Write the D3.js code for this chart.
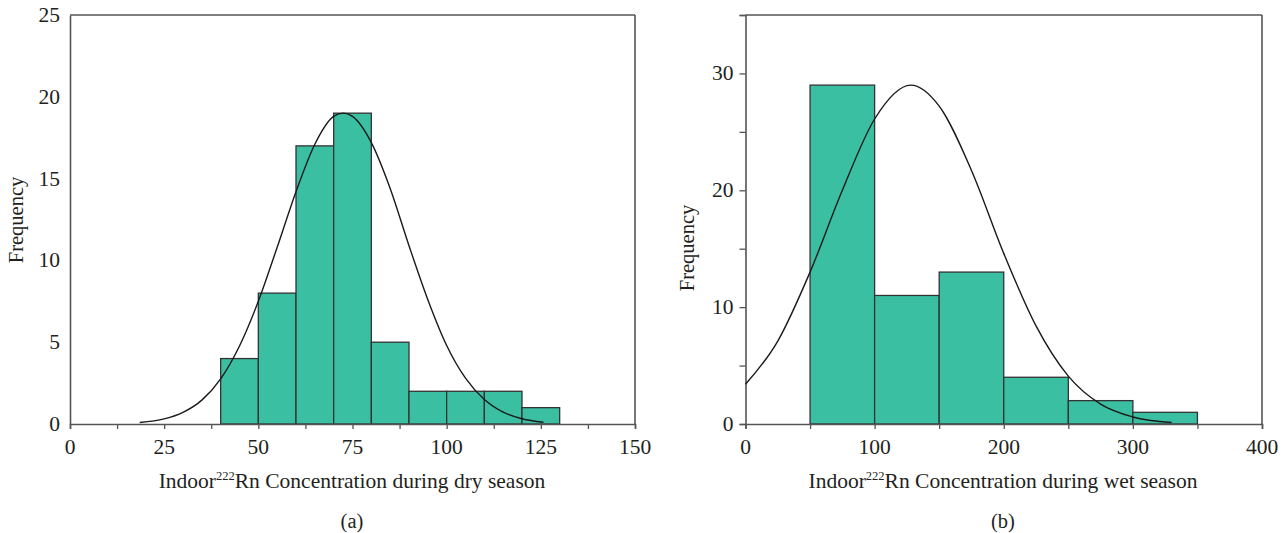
<!DOCTYPE html>
<html>
<head>
<meta charset="utf-8">
<script src="https://cdn.jsdelivr.net/npm/d3@7"></script>
<style>
  html, body { margin: 0; padding: 0; background: #fff; }
  svg text { font-family: "Liberation Serif", "DejaVu Serif", serif; fill: #231f20; }
</style>
</head>
<body>
<svg id="chart" width="1287" height="533"></svg>
<script>
// ---------- Data ----------
// Panel (a): dry season
const dryBinEdges = [40, 50, 60, 70, 80, 90, 100, 110, 120, 130];
const dryCounts   = [4, 8, 17, 19, 5, 2, 2, 2, 1];
const dryCurveX   = [18.5, 25, 30, 35, 40, 45, 50, 55, 60, 65, 70, 72.6, 75, 80, 85, 90, 95, 100, 105, 110, 115, 120, 125.7];
const dryCurveY   = [0.09, 0.31, 0.71, 1.46, 2.76, 4.77, 7.5, 10.8, 14.2, 17.1, 18.8, 19.0, 18.8, 17.2, 14.4, 10.9, 7.6, 4.8, 2.8, 1.5, 0.73, 0.32, 0.11];
const dryXTicks   = [0, 25, 50, 75, 100, 125, 150];
const dryYTicks   = [0, 5, 10, 15, 20, 25];

// Panel (b): wet season
const wetBinEdges = [50, 100, 150, 200, 250, 300, 350];
const wetCounts   = [29, 11, 13, 4, 2, 1];
const wetCurveX   = [0, 25, 50, 75, 100, 128, 150, 175, 200, 225, 250, 275, 300, 330];
const wetCurveY   = [3.4, 7.1, 13.0, 20.0, 26.1, 29.0, 27.2, 21.7, 14.6, 8.4, 4.1, 1.7, 0.6, 0.13];
const wetXTicks   = [0, 100, 200, 300, 400];
const wetYTicks   = [0, 10, 20, 30];

const xTitleA = "Concentration during dry season";
const xTitleB = "Concentration during wet season";

// ---------- Drawing ----------
const svg = d3.select("#chart");
const barFill = "#3bbfa2";
const barStroke = "#333333";
const axisColor = "#555555";

function panel(opt) {
  const x = d3.scaleLinear().domain(opt.xDomain).range(opt.xRange);
  const y = d3.scaleLinear().domain(opt.yDomain).range(opt.yRange);
  const g = svg.append("g");

  // bars
  const bins = opt.counts.map((c, i) => ({ x0: opt.edges[i], x1: opt.edges[i + 1], c }));
  g.selectAll("rect.bar").data(bins).join("rect")
    .attr("class", "bar")
    .attr("x", d => x(d.x0))
    .attr("y", d => y(d.c))
    .attr("width", d => x(d.x1) - x(d.x0))
    .attr("height", d => y(0) - y(d.c))
    .attr("fill", barFill)
    .attr("stroke", barStroke)
    .attr("stroke-width", 1.3);

  // frame top & right
  g.append("line").attr("x1", x(opt.xDomain[0])).attr("x2", x(opt.xDomain[1]))
    .attr("y1", y(opt.yDomain[1])).attr("y2", y(opt.yDomain[1]))
    .attr("stroke", axisColor).attr("stroke-width", 1.6);
  g.append("line").attr("x1", x(opt.xDomain[1])).attr("x2", x(opt.xDomain[1]))
    .attr("y1", y(opt.yDomain[1])).attr("y2", y(0))
    .attr("stroke", axisColor).attr("stroke-width", 1.6);

  // x axis
  const xa = g.append("g").attr("transform", `translate(0,${y(0)})`)
    .call(d3.axisBottom(x).tickValues(opt.xMinorTicks).tickSize(5).tickFormat(""));
  xa.select(".domain").attr("stroke", axisColor).attr("stroke-width", 1.6);
  xa.selectAll(".tick line").attr("stroke", axisColor).attr("stroke-width", 1.3);
  g.selectAll("text.xt").data(opt.xTicks).join("text")
    .attr("class", "xt")
    .attr("x", d => x(d)).attr("y", y(0) + 30)
    .attr("text-anchor", "middle").attr("font-size", 21.5)
    .text(d => d);

  // y axis
  const ya = g.append("g").attr("transform", `translate(${x(opt.xDomain[0])},0)`)
    .call(d3.axisLeft(y).tickValues(opt.yMinorTicks).tickSize(opt.yTickSize).tickFormat(""));
  ya.select(".domain").attr("stroke", axisColor).attr("stroke-width", 1.6);
  ya.selectAll(".tick line").attr("stroke", axisColor).attr("stroke-width", 1.3);
  g.selectAll("text.yt").data(opt.yTicks).join("text")
    .attr("class", "yt")
    .attr("x", x(opt.xDomain[0]) - opt.yLabelGap).attr("y", d => y(d) + 7)
    .attr("text-anchor", "end").attr("font-size", 21.5)
    .text(d => d);

  // normal curve
  const pts = opt.curveX.map((v, i) => [v, opt.curveY[i]]);
  g.append("path").datum(pts)
    .attr("d", d3.line().x(d => x(d[0])).y(d => y(d[1])).curve(d3.curveMonotoneX))
    .attr("fill", "none").attr("stroke", "#1a1a1a").attr("stroke-width", 1.4);

  // axis titles
  const t = g.append("text")
    .attr("x", opt.titleX).attr("y", 488)
    .attr("text-anchor", "middle").attr("font-size", 21.5);
  t.append("tspan").text("Indoor");
  t.append("tspan").attr("font-size", 12.5).attr("dy", -8).text("222");
  t.append("tspan").attr("dy", 8).text("Rn " + opt.xTitle);

  g.append("text")
    .attr("transform", `translate(${opt.yTitleX},${opt.yTitleY}) rotate(-90)`)
    .attr("text-anchor", "middle").attr("font-size", 20.5)
    .text("Frequency");

  g.append("text")
    .attr("x", opt.captionX).attr("y", 528)
    .attr("text-anchor", "middle").attr("font-size", 20.5)
    .text(opt.caption);
}

panel({
  edges: dryBinEdges, counts: dryCounts, curveX: dryCurveX, curveY: dryCurveY,
  xDomain: [0, 150], yDomain: [0, 25],
  xRange: [70, 635], yRange: [424, 15],
  xTicks: dryXTicks, yTicks: dryYTicks,
  xMinorTicks: d3.range(0, 150.1, 12.5), yMinorTicks: [0], yTickSize: 0,
  yLabelGap: 10, xTitle: xTitleA, titleX: 352, yTitleX: 23, yTitleY: 220,
  caption: "(a)", captionX: 352
});

panel({
  edges: wetBinEdges, counts: wetCounts, curveX: wetCurveX, curveY: wetCurveY,
  xDomain: [0, 400], yDomain: [0, 35],
  xRange: [745.5, 1262], yRange: [424, 15],
  xTicks: wetXTicks, yTicks: wetYTicks,
  xMinorTicks: d3.range(0, 400.1, 50), yMinorTicks: d3.range(0, 35.1, 5), yTickSize: 6,
  yLabelGap: 12, xTitle: xTitleB, titleX: 1003, yTitleX: 694, yTitleY: 248,
  caption: "(b)", captionX: 1003
});
</script>
</body>
</html>
